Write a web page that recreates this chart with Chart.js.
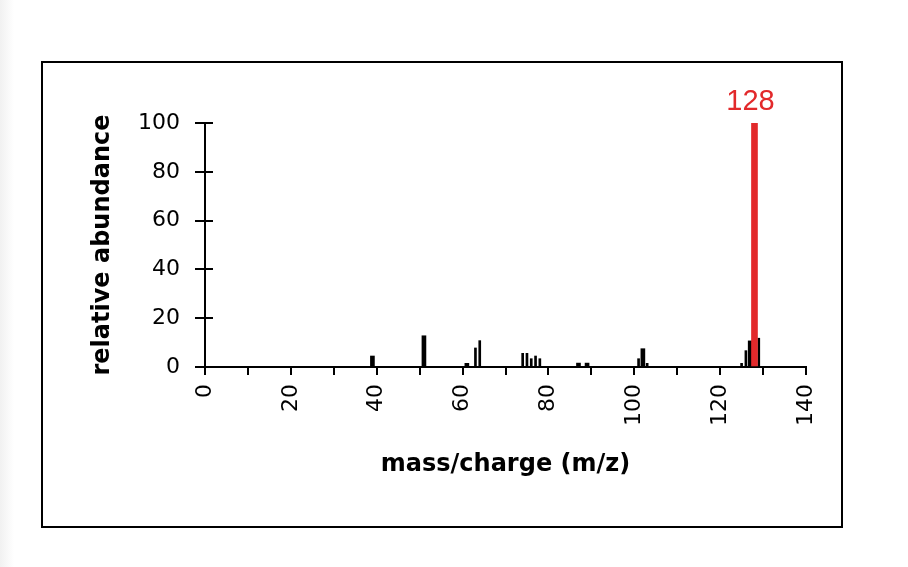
<!DOCTYPE html>
<html>
<head>
<meta charset="utf-8">
<script src="https://cdn.jsdelivr.net/npm/chart.js@4"></script>
<style>
  html, body { margin: 0; padding: 0; }
  body {
    width: 908px; height: 567px; position: relative; overflow: hidden;
    background: linear-gradient(to right, #f1f1f1 0px, #ffffff 14px);
  }
  #wrap { position: absolute; left: 0; top: 0; width: 908px; height: 567px; }
  #frame {
    position: absolute; left: 41px; top: 61px; width: 798px; height: 463px;
    border: 2px solid #000; background: #fff;
  }
</style>
</head>
<body>
<div id="frame"></div>
<div id="wrap"><canvas id="spectrum" width="908" height="567"></canvas></div>
<script>
// mass spectrum values (m/z, relative abundance)
const majorMz = [39, 51, 61, 87, 89, 102, 127];
const majorAbundance = [4.5, 12.8, 1.5, 1.6, 1.6, 7.5, 10.7];

const minorMz = [63, 64, 74, 75, 76, 77, 78, 101, 103, 125, 126, 129];
const minorAbundance = [7.8, 10.8, 5.6, 5.6, 3.4, 4.5, 3.4, 3.4, 1.5, 1.5, 6.7, 11.8];

const baseMz = [128];
const baseAbundance = [100];

const xTicks = [0, 20, 40, 60, 80, 100, 120, 140];
const yTicks = [0, 20, 40, 60, 80, 100];

const red = "#e2292b";

function toPoints(xs, ys) {
    return xs.map((x, i) => ({ x: x, y: ys[i] }));
}

// y ticks in the original cross the axis, and the base peak gets its label
const extras = {
    id: "extras",
    afterDraw(chart) {
        const ctx = chart.ctx;
        const xs = chart.scales.x;
        const ys = chart.scales.y;
        ctx.save();
        ctx.strokeStyle = "#000";
        ctx.lineWidth = 2;
        yTicks.forEach(v => {
            const py = Math.round(ys.getPixelForValue(v));
            ctx.beginPath();
            ctx.moveTo(xs.left, py);
            ctx.lineTo(xs.left + 8, py);
            ctx.stroke();
        });
        ctx.fillStyle = red;
        ctx.font = "29px 'Liberation Sans', Arial, sans-serif";
        ctx.textAlign = "center";
        ctx.textBaseline = "alphabetic";
        ctx.fillText(String(baseMz[0]), xs.getPixelForValue(baseMz[0]) - 4, ys.getPixelForValue(baseAbundance[0]) - 13);
        ctx.restore();
    }
};

const tickFont = { family: "'DejaVu Sans', sans-serif", size: 22 };
const titleFont = { family: "'DejaVu Sans', sans-serif", size: 24, weight: "bold" };

new Chart(document.getElementById("spectrum").getContext("2d"), {
    type: "bar",
    data: {
        datasets: [
            {
                data: toPoints(baseMz, baseAbundance),
                backgroundColor: red,
                barThickness: 6,
                grouped: false
            },
            {
                data: toPoints(majorMz, majorAbundance),
                backgroundColor: "#000",
                barThickness: 4,
                grouped: false
            },
            {
                data: toPoints(minorMz, minorAbundance),
                backgroundColor: "#000",
                barThickness: 2,
                grouped: false
            }
        ]
    },
    options: {
        responsive: false,
        animation: false,
        devicePixelRatio: 1,
        layout: { padding: { left: 85, top: 123, right: 102, bottom: 80 } },
        plugins: {
            legend: { display: false },
            tooltip: { enabled: false }
        },
        scales: {
            x: {
                type: "linear",
                min: 0,
                max: 140,
                offset: false,
                afterFit(scale) { scale.height = 120; },
                border: { color: "#000", width: 2 },
                grid: { offset: false, drawOnChartArea: false, color: "#000", lineWidth: 2, tickLength: 8 },
                ticks: {
                    stepSize: 10,
                    autoSkip: false,
                    minRotation: 90,
                    maxRotation: 90,
                    padding: 9,
                    color: "#000",
                    font: tickFont,
                    callback: v => xTicks.includes(v) ? String(v) : ""
                },
                title: {
                    display: true,
                    text: "mass/charge (m/z)",
                    color: "#000",
                    font: titleFont,
                    padding: { top: 0, bottom: 8 }
                }
            },
            y: {
                min: 0,
                max: 100,
                afterFit(scale) { scale.width = 120; },
                border: { color: "#000", width: 2 },
                grid: { drawOnChartArea: false, color: "#000", lineWidth: 2, tickLength: 10 },
                ticks: {
                    stepSize: 20,
                    padding: 15,
                    color: "#000",
                    font: tickFont,
                    callback: v => yTicks.includes(v) ? String(v) : ""
                },
                title: {
                    display: true,
                    text: "relative abundance",
                    color: "#000",
                    font: titleFont,
                    padding: { top: 3, bottom: 0 }
                }
            }
        }
    },
    plugins: [extras]
});
</script>
</body>
</html>
